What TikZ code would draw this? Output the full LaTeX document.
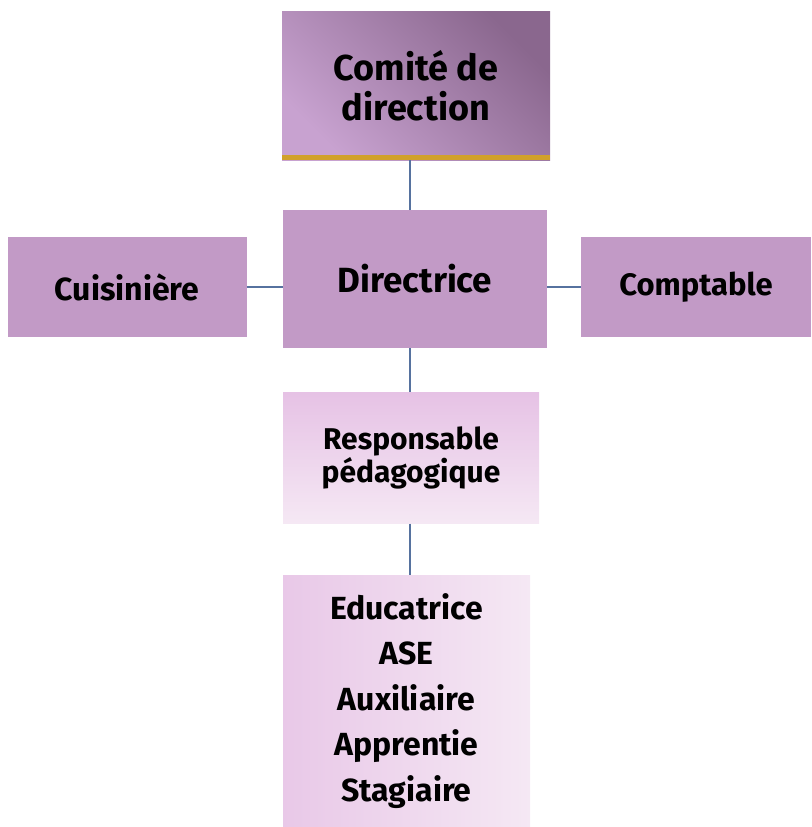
\documentclass[tikz,border=0pt]{standalone}
\usepackage{fontspec}
\setmainfont{Fira Sans}
\definecolor{lilas}{HTML}{C29AC6}
\definecolor{lilasfonce}{HTML}{8A678E}
\definecolor{lilasclair}{HTML}{C8A2D0}
\definecolor{roseclair}{HTML}{E6C2E5}
\definecolor{rosepale}{HTML}{F5E8F4}
\definecolor{orbar}{HTML}{D1A12A}
\definecolor{trait}{HTML}{56729F}
\begin{document}
\begin{tikzpicture}[x=1pt,y=-1pt,
    box/.style={inner sep=0pt,align=center},
    link/.style={draw=trait,line width=1.8pt}]
            \useasboundingbox (0,0) rectangle (811,827);
            \coordinate (axe) at (410,0);

            %boxes
            \node[box,left color=lilasclair,right color=lilasfonce,shading angle=135,
                minimum width=268pt,minimum height=149pt,
                font=\fontsize{36}{40}\selectfont\bfseries] (comite) at (416,85.5) {Comit\'e de\\direction};
            \fill[orbar] (comite.south west) rectangle ([yshift=5pt]comite.south east);

            \node[box,fill=lilas,minimum width=264pt,minimum height=138pt,
                font=\fontsize{35}{40}\selectfont\bfseries] (directrice) at (415,279) {Directrice};

            \node[box,fill=lilas,minimum width=239pt,minimum height=100pt,
                font=\fontsize{32}{40}\selectfont\bfseries] (cuisiniere) at (127,287) {Cuisini\`ere};

            \node[box,fill=lilas,minimum width=230pt,minimum height=100pt,
                font=\fontsize{31}{40}\selectfont\bfseries] (comptable) at (696,287) {Comptable};

            \node[box,top color=roseclair,bottom color=rosepale,minimum width=256pt,minimum height=131pt,
                font=\fontsize{30}{26}\selectfont\bfseries] (responsable) at (411,458) {Responsable\\p\'edagogique};

            \node[box,left color=roseclair!90,right color=rosepale,minimum width=247pt,minimum height=252pt,
                font=\fontsize{32}{45.5}\selectfont\bfseries] (equipe) at (406.5,701) {Educatrice\\ASE\\Auxiliaire\\Apprentie\\Stagiaire};

            %links
            \draw[link] (comite.south -| axe) -- (directrice.north -| axe);
            \draw[link] (cuisiniere.east) -- (directrice.west |- cuisiniere.east);
            \draw[link] (comptable.west) -- (directrice.east |- comptable.west);
            \draw[link] (directrice.south -| axe) -- (responsable.north -| axe);
            \draw[link] (responsable.south -| axe) -- (equipe.north -| axe);
        \end{tikzpicture}
\end{document}
